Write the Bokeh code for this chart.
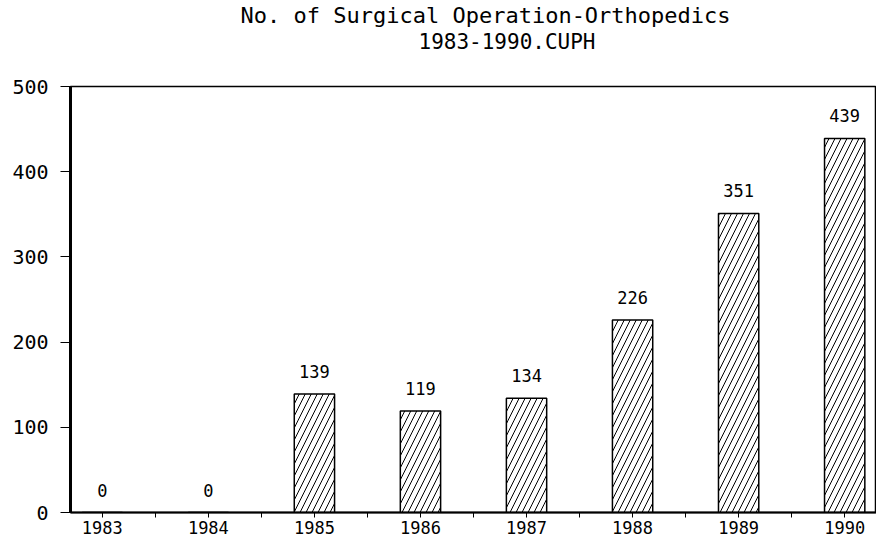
from bokeh.plotting import figure
from bokeh.models import ColumnDataSource, Range1d, FixedTicker, Title
from bokeh.core.properties import value
from bokeh.embed import file_html
from bokeh.resources import INLINE

years = ["1983", "1984", "1985", "1986", "1987", "1988", "1989", "1990"]
counts = [0, 0, 139, 119, 134, 226, 351, 439]
y_ticks = [0, 100, 200, 300, 400, 500]
title_line1 = "No. of Surgical Operation-Orthopedics"
title_line2 = "1983-1990.CUPH"

FONT = "DejaVu Sans Mono"
pos = list(range(len(years)))
src = ColumnDataSource(dict(x=pos, top=counts, label=[str(c) for c in counts]))

p = figure(width=876, height=543, output_backend="svg", toolbar_location=None,
           x_range=Range1d(-0.3, 7.3), y_range=Range1d(0, 500),
           min_border_left=70, min_border_right=0, min_border_bottom=31,
           min_border_top=0, title=None)

# spacing title between subtitle and plot frame
gap = Title(text=" ", standoff=0, text_font=FONT, text_font_size="27px")
t2 = Title(text=title_line2, align="left", offset=348, standoff=0,
           text_font=FONT, text_font_size="21px", text_font_style="normal", text_color="black")
t1 = Title(text=title_line1, align="left", offset=170, standoff=0,
           text_font=FONT, text_font_size="22px", text_font_style="normal", text_color="black")
p.add_layout(gap, "above")
p.add_layout(t2, "above")
p.add_layout(t1, "above")

p.vbar(x="x", top="top", width=0.38, source=src, fill_color="white",
       line_color="black", line_width=1.5, hatch_pattern="/", hatch_color="black",
       hatch_scale=12, hatch_weight=1)
p.text(x="x", y="top", text="label", source=src, text_align="center",
       text_baseline="bottom", y_offset=-16, text_font=value(FONT),
       text_font_size="17px", text_color="black")

p.xgrid.visible = False
p.ygrid.visible = False
p.outline_line_color = "black"
p.outline_line_width = 1.5
p.background_fill_color = "white"
p.border_fill_color = "white"

xa = p.xaxis[0]
xa.ticker = FixedTicker(ticks=pos, minor_ticks=[i + 0.5 for i in range(-1, 8)])
xa.major_label_overrides = {i: y for i, y in enumerate(years)}
xa.axis_line_width = 2
xa.major_tick_in = 0
xa.major_tick_out = 5
xa.minor_tick_in = 0
xa.minor_tick_out = 5
xa.major_label_standoff = 3
xa.major_label_text_font = FONT
xa.major_label_text_font_size = "17px"
xa.major_label_text_color = "black"

ya = p.yaxis[0]
ya.ticker = FixedTicker(ticks=y_ticks, minor_ticks=[])
ya.axis_line_width = 3
ya.major_tick_in = 0
ya.major_tick_out = 10
ya.major_label_standoff = 12
ya.major_label_text_font = FONT
ya.major_label_text_font_size = "20px"
ya.major_label_text_color = "black"

open("out.html", "w").write(file_html(p, INLINE))
